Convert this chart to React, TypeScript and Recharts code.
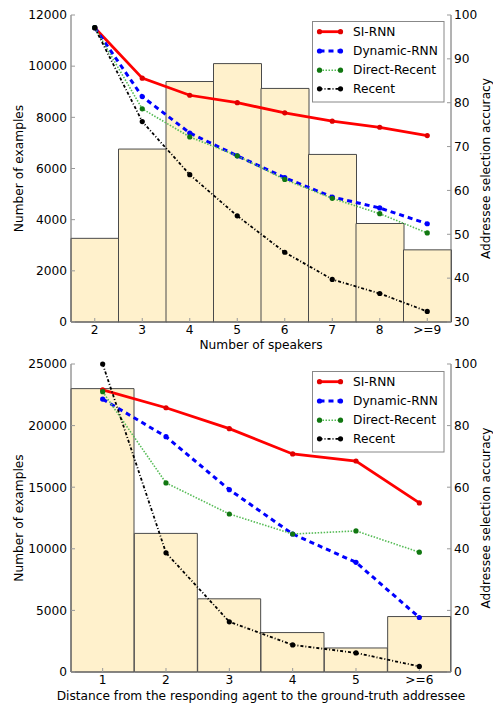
import React from 'react'
import { Bar, ComposedChart, Label, Line, XAxis, YAxis } from 'recharts'

// number of speakers panel
const speakerCats = ['2', '3', '4', '5', '6', '7', '8', '>=9']
const speakerCounts = [3270, 6760, 9400, 10100, 9130, 6550, 3850, 2820]
const siRnnBySpeakers = [97.1, 85.6, 81.7, 80.0, 77.7, 75.8, 74.4, 72.5]
const dynRnnBySpeakers = [97.1, 81.4, 73.1, 67.9, 62.9, 58.5, 56.0, 52.4]
const directBySpeakers = [97.1, 78.6, 72.2, 67.9, 62.5, 58.2, 54.7, 50.3]
const recentBySpeakers = [97.1, 75.7, 63.6, 54.2, 45.9, 39.7, 36.5, 32.4]
const speakerLeftTicks = [0, 2000, 4000, 6000, 8000, 10000, 12000]
const speakerRightTicks = [30, 40, 50, 60, 70, 80, 90, 100]

// distance panel
const distanceCats = ['1', '2', '3', '4', '5', '>=6']
const distanceCounts = [23000, 11250, 5940, 3200, 1950, 4500]
const siRnnByDistance = [91.6, 85.8, 79.0, 70.8, 68.5, 54.9]
const dynRnnByDistance = [88.6, 76.4, 59.2, 44.8, 35.6, 17.7]
const directByDistance = [91.0, 61.4, 51.3, 44.8, 45.8, 38.9]
const recentByDistance = [100, 38.7, 16.3, 8.8, 6.2, 1.8]
const distanceLeftTicks = [0, 5000, 10000, 15000, 20000, 25000]
const distanceRightTicks = [0, 20, 40, 60, 80, 100]

const FONT = '"DejaVu Sans", sans-serif'
const FS = 12.2
const FRAME = '#666'

const series = [
  { key: 'siRnn', name: 'SI-RNN', stroke: '#ff0000', dotFill: '#e00000', width: 2.8, dash: undefined },
  { key: 'dynRnn', name: 'Dynamic-RNN', stroke: '#0000ff', dotFill: '#0000ff', width: 3, dash: '5 4' },
  { key: 'direct', name: 'Direct-Recent', stroke: '#55bb55', dotFill: '#117711', width: 1.6, dash: '1.5 1.5' },
  { key: 'recent', name: 'Recent', stroke: '#000000', dotFill: '#000000', width: 1.8, dash: '3 2 1 2' },
]

function buildRows(cats: string[], counts: number[], si: number[], dyn: number[], dir: number[], rec: number[]) {
  return cats.map((c, i) => ({
    name: c,
    count: counts[i],
    siRnn: si[i],
    dynRnn: dyn[i],
    direct: dir[i],
    recent: rec[i],
  }))
}

function vLabel(text: string, cx: number) {
  return (props: any) => {
    const vb = props.viewBox || {}
    const cy = (vb.y ?? 0) + (vb.height ?? 0) / 2
    return (
      <text
        x={cx}
        y={cy}
        transform={`rotate(-90 ${cx} ${cy})`}
        textAnchor="middle"
        dominantBaseline="central"
        fontSize={FS}
        fontFamily={FONT}
        fill="#000"
      >
        {text}
      </text>
    )
  }
}

function LegendBox() {
  const rows = [10.7, 30, 49.2, 67.8]
  return (
    <svg width={133} height={82} style={{ position: 'absolute', left: 312, top: 0, overflow: 'visible' }}>
      <rect x={0.5} y={0.5} width={131.5} height={80.5} fill="#fff" stroke="#888" strokeWidth={1} />
      {series.map((s, i) => (
        <g key={s.key}>
          <line x1={7.5} x2={28.5} y1={rows[i]} y2={rows[i]} stroke={s.stroke} strokeWidth={s.width} strokeDasharray={s.dash} />
          <circle cx={7.5} cy={rows[i]} r={2.6} fill={s.dotFill} />
          <circle cx={28.5} cy={rows[i]} r={2.6} fill={s.dotFill} />
          <text x={41} y={rows[i]} dominantBaseline="central" fontSize={FS} fontFamily={FONT} fill="#000">
            {s.name}
          </text>
        </g>
      ))}
    </svg>
  )
}

interface PanelProps {
  rows: any[]
  xTitle: string
  leftMax: number
  leftTicks: number[]
  rightDomain: [number, number]
  rightTicks: number[]
  marginTop: number
  xHeight: number
  titleOffset: number
  legendTop: number
}

function Panel({ rows, xTitle, leftMax, leftTicks, rightDomain, rightTicks, marginTop, xHeight, titleOffset, legendTop }: PanelProps) {
  const tick = { fontSize: FS, fill: '#000', fontFamily: FONT }
  return (
    <div style={{ position: 'relative', width: 493, height: 352 }}>
      <ComposedChart
        width={493}
        height={352}
        data={rows}
        margin={{ top: marginTop, right: 0, left: 0, bottom: 0 }}
        barCategoryGap={0}
        barGap={0}
      >
        <XAxis
          xAxisId="bottom"
          dataKey="name"
          height={xHeight}
          tick={tick}
          axisLine={{ stroke: FRAME }}
          tickLine={{ stroke: '#999' }}
          tickSize={-4}
          tickMargin={7}
          interval={0}
        >
          <Label
            value={xTitle}
            position="insideBottom"
            offset={titleOffset}
            style={{ fontSize: FS, fontFamily: FONT, fill: '#000' }}
          />
        </XAxis>
        <XAxis
          xAxisId="top"
          dataKey="name"
          orientation="top"
          height={0}
          tick={false}
          axisLine={{ stroke: FRAME }}
          tickLine={{ stroke: '#999' }}
          tickSize={-4}
          interval={0}
        />
        <YAxis
          yAxisId="left"
          width={71}
          domain={[0, leftMax]}
          ticks={leftTicks}
          tick={tick}
          axisLine={{ stroke: FRAME }}
          tickLine={{ stroke: '#999' }}
          tickSize={-4}
          tickMargin={8}
          interval={0}
        >
          <Label content={vLabel('Number of examples', 19)} />
        </YAxis>
        <YAxis
          yAxisId="right"
          orientation="right"
          width={42}
          domain={rightDomain}
          ticks={rightTicks}
          tick={tick}
          axisLine={{ stroke: FRAME }}
          tickLine={{ stroke: '#999' }}
          tickSize={-4}
          tickMargin={7}
          interval={0}
        >
          <Label content={vLabel('Addressee selection accuracy', 486)} />
        </YAxis>
        <Bar
          xAxisId="bottom"
          yAxisId="left"
          dataKey="count"
          fill="#fff1cc"
          stroke="#4a4a4a"
          strokeWidth={1}
          isAnimationActive={false}
        />
        {series.map((s) => (
          <Line
            key={s.key}
            xAxisId="bottom"
            yAxisId="right"
            type="linear"
            dataKey={s.key}
            name={s.name}
            stroke={s.stroke}
            strokeWidth={s.width}
            strokeDasharray={s.dash}
            dot={{ r: 2.6, fill: s.dotFill, stroke: 'none' }}
            activeDot={false}
            isAnimationActive={false}
          />
        ))}
      </ComposedChart>
      <div style={{ position: 'absolute', left: 0, top: legendTop }}>
        <LegendBox />
      </div>
    </div>
  )
}

export default function App() {
  const speakerRows = buildRows(speakerCats, speakerCounts, siRnnBySpeakers, dynRnnBySpeakers, directBySpeakers, recentBySpeakers)
  const distanceRows = buildRows(distanceCats, distanceCounts, siRnnByDistance, dynRnnByDistance, directByDistance, recentByDistance)
  return (
    <div style={{ position: 'absolute', left: 0, top: 0, width: 493, height: 704, background: '#fff', fontFamily: FONT }}>
      <Panel
        rows={speakerRows}
        xTitle="Number of speakers"
        leftMax={12000}
        leftTicks={speakerLeftTicks}
        rightDomain={[30, 100]}
        rightTicks={speakerRightTicks}
        marginTop={15}
        xHeight={30}
        titleOffset={3}
        legendTop={21}
      />
      <Panel
        rows={distanceRows}
        xTitle="Distance from the responding agent to the ground-truth addressee"
        leftMax={25000}
        leftTicks={distanceLeftTicks}
        rightDomain={[0, 100]}
        rightTicks={distanceRightTicks}
        marginTop={12}
        xHeight={32}
        titleOffset={4}
        legendTop={19}
      />
    </div>
  )
}
